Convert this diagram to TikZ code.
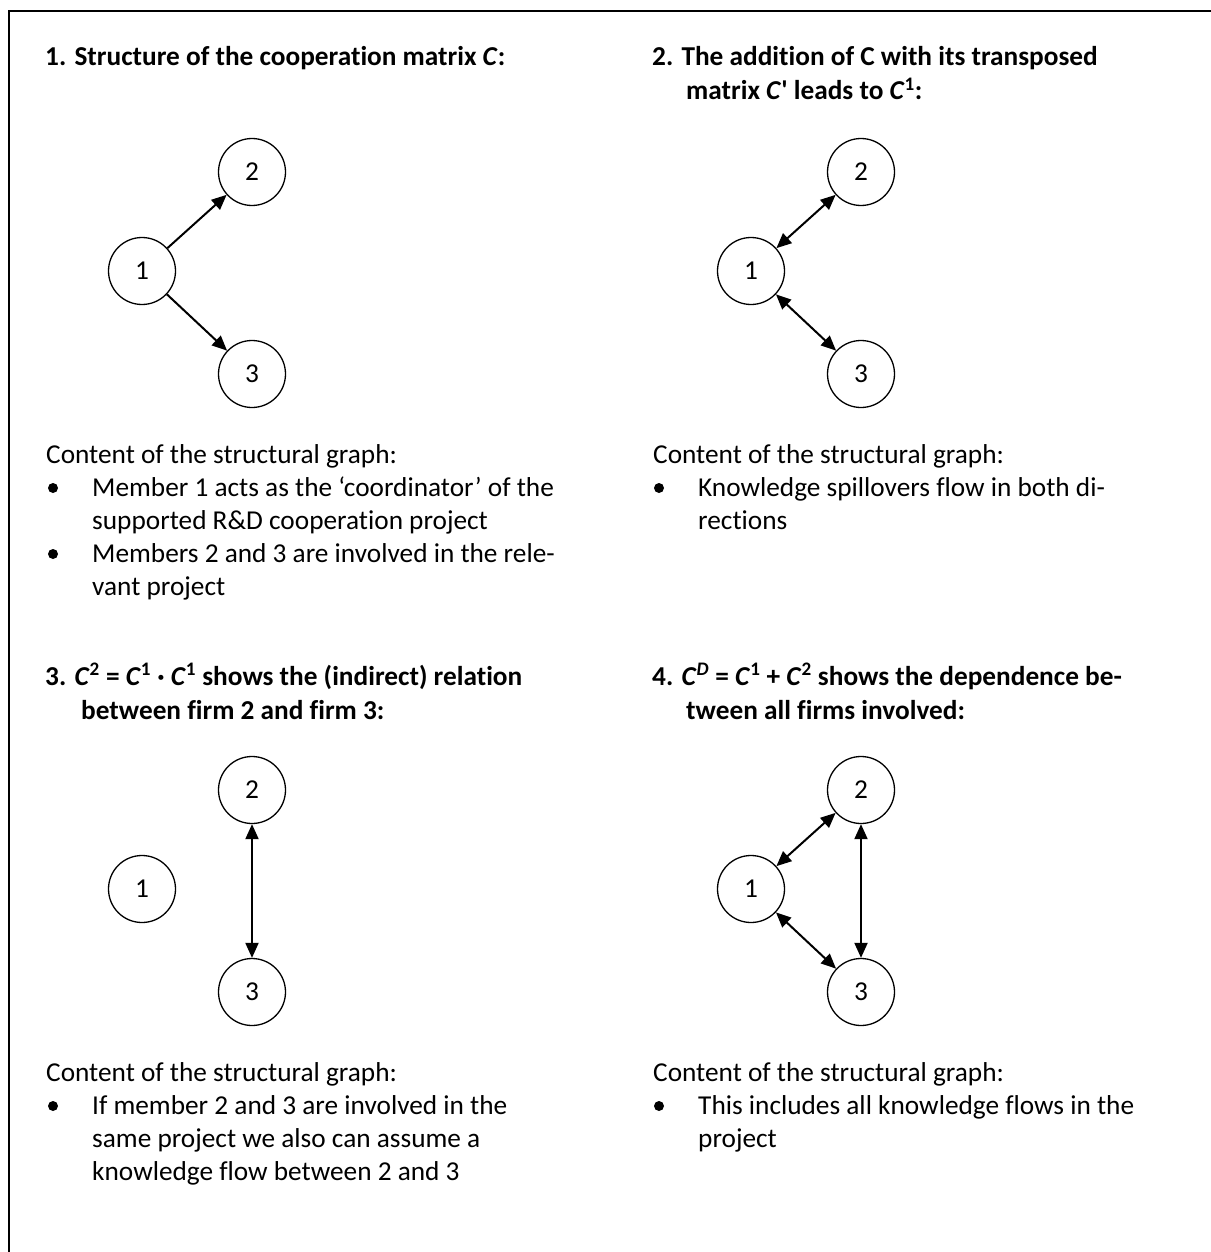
\documentclass[tikz,border=0pt]{standalone}
\usepackage{fontspec}
\setmainfont{Carlito}[Ligatures={TeX,NoCommon}]
\usetikzlibrary{arrows.meta}
\newcommand\bodyfont{\fontsize{27.3}{33}\selectfont}
\newcommand\ttlfont{\fontsize{27.3}{33}\selectfont\bfseries}
\tikzset{
  firm/.style={circle, draw, line width=1.3pt, minimum size=67pt, inner sep=0pt, font=\bodyfont},
  link/.style={line width=2pt, -{Triangle[length=15pt,width=13pt]}},
  both/.style={line width=2pt, {Triangle[length=15pt,width=13pt]}-{Triangle[length=15pt,width=13pt]}},
  txt/.style={anchor=base west, inner sep=0pt, font=\bodyfont},
  ttl/.style={anchor=base west, inner sep=0pt, font=\ttlfont},
  dot/.style={circle, fill, inner sep=0pt, minimum size=10pt},
  frame/.style={line width=2pt}
}
\begin{document}
\begin{tikzpicture}[x=1pt, y=-1pt]
\useasboundingbox (0,0) rectangle (1210,1252);
\coordinate (fa) at (9,1270);
\coordinate (fb) at (9,11);
\coordinate (fc) at (1230,11);
\draw[frame] (fa) -- (fb) -- (fc);

% ---------- Panel 1 ----------
\node[ttl] (t1) at (45,66) {1. Structure of the cooperation matrix \textit{C}:};
\node[firm] (a1) at (142,271) {1};
\node[firm] (a2) at (252,172) {2};
\node[firm] (a3) at (252,374) {3};
\draw[link] (a1) -- (a2);
\draw[link] (a1) -- (a3);
\node[txt] (c1) at (46,463) {Content of the structural graph:};
\node[dot] (d1a) at (53,488) {};
\node[txt] (l1a) at (92,496) {Member 1 acts as the ‘coordinator’ of the};
\node[txt] (l1b) at (92,529) {supported R\&D cooperation project};
\node[dot] (d1b) at (53,554) {};
\node[txt] (l1c) at (92,562) {Members 2 and 3 are involved in the rele-};
\node[txt] (l1d) at (92,595) {vant project};

% ---------- Panel 2 ----------
\node[ttl] (t2a) at (652,66) {2. The addition of C with its transposed};
\node[ttl] (t2b) at (686,100) {matrix \textit{C}\textquotesingle{} leads to \textit{C}\textsuperscript{1}:};
\node[firm] (b1) at (751,271) {1};
\node[firm] (b2) at (861,172) {2};
\node[firm] (b3) at (861,374) {3};
\draw[both] (b1) -- (b2);
\draw[both] (b1) -- (b3);
\node[txt] (c2) at (653,463) {Content of the structural graph:};
\node[dot] (d2a) at (659,488) {};
\node[txt] (l2a) at (698,496) {Knowledge spillovers flow in both di-};
\node[txt] (l2b) at (698,529) {rections};

% ---------- Panel 3 ----------
\node[ttl] (t3a) at (45,685) {3. \textit{C}\textsuperscript{2} = \textit{C}\textsuperscript{1} · \textit{C}\textsuperscript{1} shows the (indirect) relation};
\node[ttl] (t3b) at (81,719) {between firm 2 and firm 3:};
\node[firm] (e1) at (142,889) {1};
\node[firm] (e2) at (252,790) {2};
\node[firm] (e3) at (252,992) {3};
\draw[both] (e2) -- (e3);
\node[txt] (c3) at (46,1081) {Content of the structural graph:};
\node[dot] (d3a) at (53,1106) {};
\node[txt] (l3a) at (92,1114) {If member 2 and 3 are involved in the};
\node[txt] (l3b) at (92,1147) {same project we also can assume a};
\node[txt] (l3c) at (92,1180) {knowledge flow between 2 and 3};

% ---------- Panel 4 ----------
\node[ttl] (t4a) at (652,685) {4. \textit{C}\textsuperscript{\textit{D}} = \textit{C}\textsuperscript{1} + \textit{C}\textsuperscript{2} shows the dependence be-};
\node[ttl] (t4b) at (686,719) {tween all firms involved:};
\node[firm] (f1) at (751,889) {1};
\node[firm] (f2) at (861,790) {2};
\node[firm] (f3) at (861,992) {3};
\draw[both] (f1) -- (f2);
\draw[both] (f1) -- (f3);
\draw[both] (f2) -- (f3);
\node[txt] (c4) at (653,1081) {Content of the structural graph:};
\node[dot] (d4a) at (659,1106) {};
\node[txt] (l4a) at (698,1114) {This includes all knowledge flows in the};
\node[txt] (l4b) at (698,1147) {project};
\end{tikzpicture}
\end{document}
